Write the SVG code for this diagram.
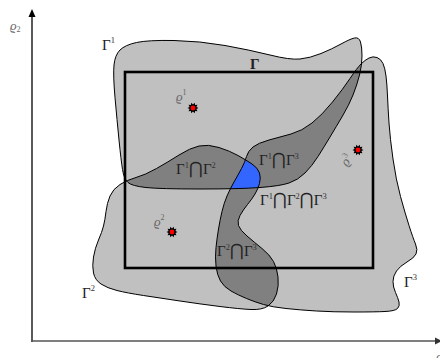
<svg xmlns="http://www.w3.org/2000/svg" xmlns:xlink="http://www.w3.org/1999/xlink" width="440" height="358" viewBox="0 0 440 358">
<style>
.fill{fill:#c0c0c0;stroke:none}
.dark{fill:#808080;stroke:none}
.blue{fill:#3366ff;stroke:none}
.edge{fill:none;stroke:#000;stroke-width:1}
.t{font-family:"Liberation Serif","DejaVu Serif",serif;font-size:15px;fill:#222}
.sup{font-size:8.5px;fill:#333}
.op{font-family:"DejaVu Serif","DejaVu Sans",serif;font-size:17px;font-weight:normal}
.rho{font-family:"Liberation Serif","DejaVu Serif",serif;font-style:italic;font-size:13px;fill:#666}
.rs{font-size:8px;font-style:normal}
</style>
<defs>
<path id="p1" d="M115,97.5 Q113,75 114,65 Q115,55 120,50 Q125,45 136.5,42.5 Q148,40 174,40.5 Q200,41 225,45.5 Q250,50 270,55 Q290,60 300,59 Q310,58 321,53.5 Q332,49 341,44 Q350,39 354.5,38 Q359,37 360.5,42 Q362,47 362,56 Q362,65 359.5,75 Q357,85 353,95 Q349,105 342.5,116 Q336,127 330,137 Q324,147 318,156.5 Q312,166 305,173 Q298,180 289,183 Q280,186 260,187.5 Q240,189 200,189 Q160,189 146,187.5 Q132,186 128,182.5 Q124,179 122.5,169.5 Q121,160 119,140 Q117,120 115,97.5 Z"/>
<path id="p2" d="M120,184.5 Q127,180 136,177.5 Q145,175 156.5,168.5 Q168,162 179,155 Q190,148 199,146 Q208,144 219,147.5 Q230,151 238,155.5 Q246,160 252,164 Q258,168 259.5,173 Q261,178 259.5,183.5 Q258,189 255,194 Q252,199 247.5,204.5 Q243,210 240,215.5 Q237,221 238.5,225.5 Q240,230 247,236 Q254,242 262,248.5 Q270,255 273.5,261.5 Q277,268 278,277 Q279,286 276.5,294 Q274,302 268,306 Q262,310 251,309.5 Q240,309 220,306.5 Q200,304 180,301 Q160,298 143.5,295.5 Q127,293 117,290.5 Q107,288 101,284 Q95,280 93.5,273 Q92,266 93.5,257 Q95,248 98.5,240 Q102,232 103.5,226 Q105,220 106,211.5 Q107,203 110,196 Q113,189 120,184.5 Z"/>
<path id="p3" d="M369,58 Q373,56 377,57.5 Q381,59 383,63.5 Q385,68 386,76 Q387,84 387.5,96 Q388,108 389,123 Q390,138 393,159 Q396,180 400.5,196.5 Q405,213 409,225.5 Q413,238 415.5,244 Q418,250 416,254 Q414,258 407,262 Q400,266 396.5,271 Q393,276 393,281.5 Q393,287 395.5,292.5 Q398,298 399,302 Q400,306 397.5,308.5 Q395,311 385,311.5 Q375,312 354,312 Q333,312 316.5,311 Q300,310 286,308.5 Q272,307 263.5,304.5 Q255,302 246.5,298.5 Q238,295 231,291 Q224,287 220.5,281 Q217,275 216,266 Q215,257 216,247.5 Q217,238 218.5,229 Q220,220 222,211.5 Q224,203 227,196 Q230,189 234,182 Q238,175 241.5,168.5 Q245,162 246.5,156.5 Q248,151 253,147 Q258,143 269,140 Q280,137 291,134 Q302,131 312,123 Q322,115 332.5,102 Q343,89 350,78.5 Q357,68 361,64 Q365,60 369,58 Z"/>
<clipPath id="c1"><use xlink:href="#p1"/></clipPath>
<clipPath id="c2"><use xlink:href="#p2"/></clipPath>
<g id="star"><polygon points="5.5,0 3.42,1.11 4.45,3.23 2.12,2.91 1.70,5.23 0,3.6 -1.70,5.23 -2.12,2.91 -4.45,3.23 -3.42,1.11 -5.5,0 -3.42,-1.11 -4.45,-3.23 -2.12,-2.91 -1.70,-5.23 0,-3.6 1.70,-5.23 2.12,-2.91 4.45,-3.23 3.42,-1.11" fill="#000"/><circle r="2.4" fill="#ff0000"/></g>
</defs>
<rect width="440" height="358" fill="#fff"/>
<g id="axes">
<line x1="32" y1="342" x2="32" y2="15" stroke="#000" stroke-width="1.3"/>
<polygon points="32,9 28.5,17 35.5,17" fill="#000"/>
<line x1="31" y1="341" x2="436" y2="341" stroke="#555" stroke-width="1.5"/>
<polygon points="442,341 435,337.5 435,344.5" fill="#333"/>
<text class="rho" x="10" y="30">ϱ<tspan class="rs" dy="2">2</tspan></text>
<text class="rho" x="436" y="361">ϱ</text>
</g>
<g id="regions">
<use xlink:href="#p1" class="fill"/>
<use xlink:href="#p2" class="fill"/>
<use xlink:href="#p3" class="fill"/>
<g clip-path="url(#c1)"><use xlink:href="#p2" class="dark"/><use xlink:href="#p3" class="dark"/></g>
<g clip-path="url(#c2)"><use xlink:href="#p3" class="dark"/></g>
<g clip-path="url(#c1)"><g clip-path="url(#c2)"><use xlink:href="#p3" class="blue"/></g></g>
</g>
<g id="gamma1"><use xlink:href="#p1" class="edge"/><text class="t" x="102" y="50">Γ<tspan class="sup" dy="-7">1</tspan></text></g>
<g id="gamma2"><use xlink:href="#p2" class="edge"/><text class="t" x="82" y="298">Γ<tspan class="sup" dy="-7">2</tspan></text></g>
<g id="gamma3"><use xlink:href="#p3" class="edge"/><text class="t" x="404" y="287">Γ<tspan class="sup" dy="-7">3</tspan></text></g>
<g id="gamma"><rect x="125" y="72" width="248" height="196" fill="none" stroke="#000" stroke-width="2.6"/><text class="t" x="250" y="69" font-weight="bold" font-size="13">Γ</text></g>
<g id="labels">
<text class="t" x="176" y="174">Γ<tspan class="sup" dy="-6">1</tspan><tspan class="op" dy="6">⋂</tspan>Γ<tspan class="sup" dy="-6">2</tspan></text>
<text class="t" x="259" y="165">Γ<tspan class="sup" dy="-6">1</tspan><tspan class="op" dy="6">⋂</tspan>Γ<tspan class="sup" dy="-6">3</tspan></text>
<text class="t" x="260" y="205">Γ<tspan class="sup" dy="-6">1</tspan><tspan class="op" dy="6">⋂</tspan>Γ<tspan class="sup" dy="-6">2</tspan><tspan class="op" dy="6">⋂</tspan>Γ<tspan class="sup" dy="-6">3</tspan></text>
<text class="t" x="217" y="256">Γ<tspan class="sup" dy="-6">2</tspan><tspan class="op" dy="6">⋂</tspan>Γ<tspan class="sup" dy="-6">3</tspan></text>
</g>
<g id="rho1"><text class="rho" x="176" y="101">ϱ<tspan class="rs" dy="-6">1</tspan></text><use xlink:href="#star" x="193" y="108"/></g>
<g id="rho2"><text class="rho" x="154" y="226">ϱ<tspan class="rs" dy="-6">2</tspan></text><use xlink:href="#star" x="172" y="232"/></g>
<g id="rho3"><text class="rho" transform="translate(347,167) rotate(-55)">ϱ<tspan class="rs" dy="-6">3</tspan></text><use xlink:href="#star" x="358" y="150"/></g>
</svg>
